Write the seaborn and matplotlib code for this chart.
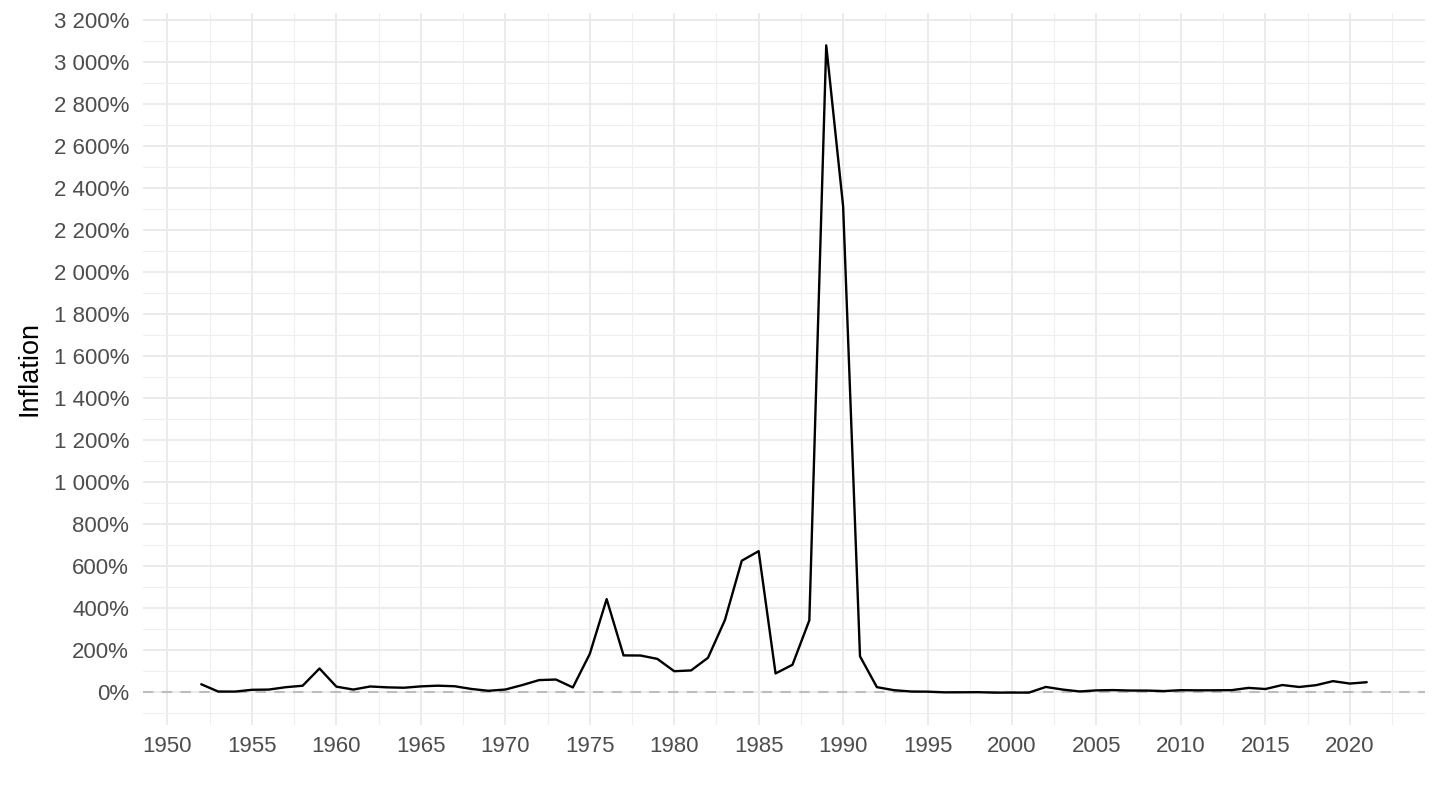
import numpy as np
import pandas as pd
import matplotlib
matplotlib.use("Agg")
import matplotlib.pyplot as plt
import seaborn as sns
from matplotlib.ticker import MultipleLocator, FuncFormatter

years = list(range(1952, 2022))
inflation = [
    38.7, 4.0, 3.8, 12.3, 13.4, 24.7, 31.6, 113.7, 27.3, 13.5,
    28.1, 24.0, 22.1, 28.6, 31.9, 29.2, 16.2, 7.6, 13.6, 34.7,
    58.5, 61.2, 23.5, 182.9, 444.0, 176.0, 175.5, 159.5, 100.8, 104.5,
    164.8, 343.8, 626.7, 672.2, 90.1, 131.3, 343.0, 3079.5, 2314.0, 171.7,
    24.9, 10.6, 4.2, 3.4, 0.2, 0.5, 0.9, -1.2, -0.9, -1.1,
    25.9, 13.4, 4.4, 9.6, 10.9, 8.8, 8.6, 6.3, 10.5, 9.8,
    10.0, 10.6, 21.4, 16.0, 35.0, 25.7, 34.3, 53.5, 42.0, 48.4,
]

df = pd.DataFrame({"year": years, "inflation": inflation})

sns.set_style("white")
plt.rcParams["font.family"] = ["Liberation Sans", "DejaVu Sans"]

fig = plt.figure(figsize=(14.4, 8.1), dpi=100)
ax = fig.add_axes([143 / 1440, 1 - 725 / 810, (1425 - 143) / 1440, (725 - 13) / 810])

ax.axhline(0, color="#BDBDBD", lw=1.5, ls=(0, (5, 4)), zorder=2)
sns.lineplot(data=df, x="year", y="inflation", color="black", lw=1.7, ax=ax, zorder=3)

rng = max(inflation) - min(inflation)
ax.set_ylim(min(inflation) - 0.05 * rng, max(inflation) + 0.05 * rng)
ax.set_xlim(1952 - 0.05 * 69, 2021 + 0.05 * 69)

ax.xaxis.set_major_locator(MultipleLocator(5))
ax.xaxis.set_minor_locator(MultipleLocator(2.5))
ax.yaxis.set_major_locator(MultipleLocator(200))
ax.yaxis.set_minor_locator(MultipleLocator(100))
ax.yaxis.set_major_formatter(FuncFormatter(lambda v, p: f"{int(round(v)):,}".replace(",", " ") + "%"))

ax.grid(which="major", color="#EBEBEB", lw=1.4)
ax.grid(which="minor", color="#EFEFEF", lw=0.8)
ax.set_axisbelow(True)

ax.tick_params(which="both", length=0)
ax.tick_params(axis="y", labelsize=16, labelcolor="#4D4D4D", pad=10)
ax.tick_params(axis="x", labelsize=16, labelcolor="#4D4D4D", pad=8)

for s in ax.spines.values():
    s.set_visible(False)

ax.set_xlabel("")
ax.set_ylabel("Inflation", fontsize=19.5, color="black", labelpad=8)

fig.savefig("out.png", dpi=100)
